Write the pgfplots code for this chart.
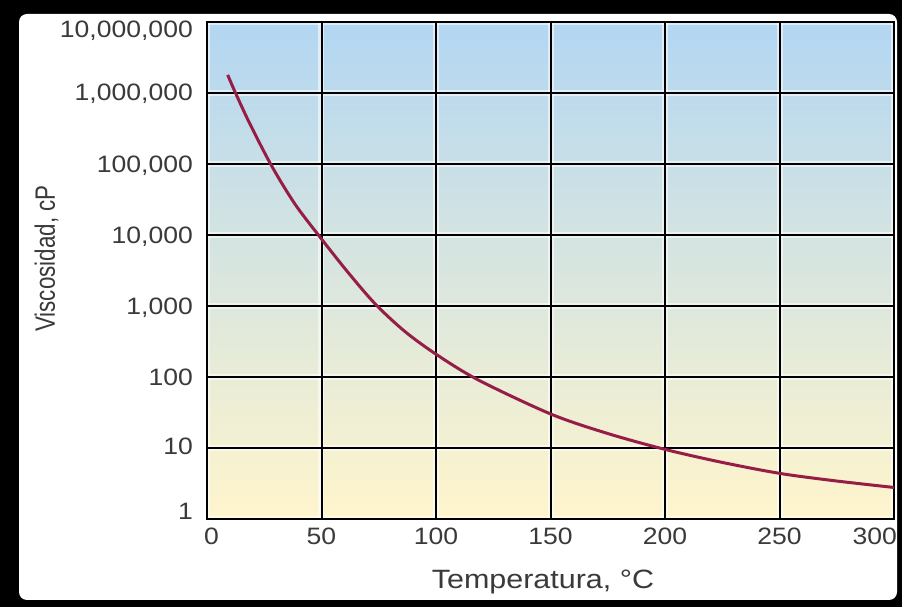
\documentclass[border=0pt]{standalone}
\usepackage{fontspec}
\setmainfont{Liberation Sans}
\newfontfamily\tickfont[FakeStretch=1.12]{Liberation Sans}
\newfontfamily\xlabfont[FakeStretch=1.15]{Liberation Sans}
\newfontfamily\ylabfont[FakeStretch=0.8]{Liberation Sans}
\usepackage{pgfplots}
\pgfplotsset{compat=1.18}
\usetikzlibrary{calc}
\definecolor{txt}{HTML}{3A3A3A}
\definecolor{curve}{RGB}{150,30,70}
\definecolor{bgtop}{HTML}{B2D6F2}
\definecolor{bgmid}{HTML}{D3E8DA}
\definecolor{bgbot}{HTML}{FFF5CC}
\newcommand\yl[2]{\smash{\raisebox{#1}{#2}}}
\pgfplotstableread{
T visc
9.03 1.80e6
12.52 9.9e5
18.76 3.66e5
28.23 9.4e4
38.40 2.73e4
49.31 9.38e3
61.09 3.11e3
73.44 1.07e3
86.40 438
100.23 207
118.47 90.8
150.11 30.1
174.98 16.0
200.16 9.53
225.16 6.25
250.47 4.37
274.9 3.43
300 2.78
}\viscdata
\begin{document}
\begin{tikzpicture}
\fill[black] (0bp,0bp) rectangle (902bp,607bp);
\fill[white, rounded corners=8bp] (19bp,7bp) rectangle (897bp,593bp);
\begin{axis}[
  at={(207bp,88bp)}, anchor=south west,
  scale only axis, width=687bp, height=497bp,
  xmin=0, xmax=300, ymode=log, ymin=1, ymax=1e7,
  xtick={0,50,100,150,200,250,300},
  xticklabels={{\makebox[0pt][l]{\hspace*{-3bp}0}},50,100,150,200,250,{\makebox[0pt][r]{300\hspace*{-3bp}}}},
  ytick={1,10,100,1000,10000,100000,1000000,10000000},
  yticklabels={{\yl{0bp}{1}},{\yl{-7bp}{10}},{\yl{-8.5bp}{100}},{\yl{-8.5bp}{1,000}},{\yl{-8.5bp}{10,000}},{\yl{-8.5bp}{100,000}},{\yl{-8bp}{1,000,000}},{\yl{-16bp}{10,000,000}}},
  yminorticks=false, xminorticks=false,
  grid=major, major grid style={black, line width=2bp},
  axis line style={black, line width=2bp},
  major tick length=0pt,
  tick label style={font=\tickfont\fontsize{23.7bp}{26bp}\selectfont, text=txt, inner sep=0pt},
  xticklabel style={anchor=north, yshift=-9bp},
  yticklabel style={anchor=east, xshift=-14bp},
  xlabel={Temperatura, °C},
  xlabel style={at={(axis description cs:0.489,0)}, anchor=base, yshift=-69bp, font=\xlabfont\fontsize{26.5bp}{28bp}\selectfont, text=txt},
  ylabel={Viscosidad, cP},
  ylabel style={at={(axis description cs:-0.2213,0.524)}, anchor=base, font=\ylabfont\fontsize{28bp}{30bp}\selectfont, text=txt},
  axis background/.style={shade, top color=bgtop, middle color=bgmid, bottom color=bgbot,
    path picture={
      \foreach \i in {0,...,6}{\draw[white, opacity=.55, line width=6bp] ($(path picture bounding box.south west)!\i/6!(path picture bounding box.south east)$) -- ++(0,500bp);}
      \foreach \j in {0,...,7}{\draw[white, opacity=.55, line width=6bp] ($(path picture bounding box.south west)!\j/7!(path picture bounding box.north west)$) -- ++(700bp,0);}
    }},
]
\addplot[curve, line width=3bp, smooth] table[x=T, y=visc] {\viscdata};
\end{axis}
\end{tikzpicture}
\end{document}
